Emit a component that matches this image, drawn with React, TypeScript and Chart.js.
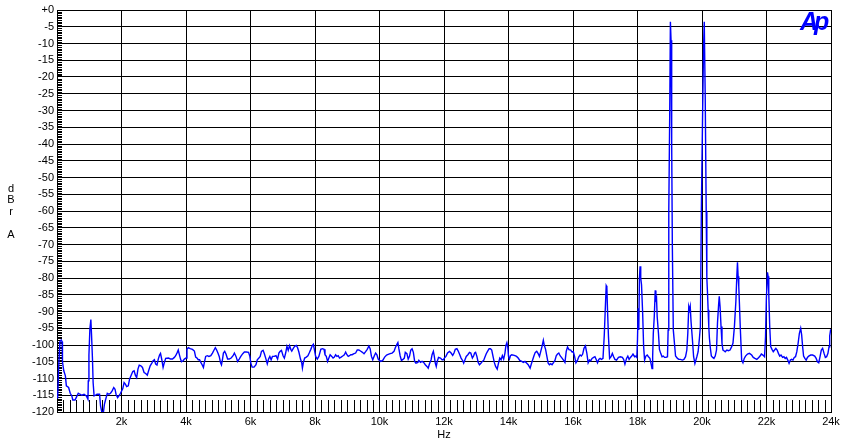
import { useEffect, useRef } from "react";
import { Chart, registerables } from "chart.js";

Chart.register(...registerables);

// X axis (kHz) and Y axis (dBr A) tick values
const xTickKHz = [0, 2, 4, 6, 8, 10, 12, 14, 16, 18, 20, 22, 24];
const yTickDb = [0, -5, -10, -15, -20, -25, -30, -35, -40, -45, -50, -55, -60, -65, -70, -75, -80, -85, -90, -95, -100, -105, -110, -115, -120];

// FFT trace, [frequency kHz, level dBr A]
const spectrum0to4k: [number, number][] = [
  [0.02, -116], [0.05, -107], [0.09, -99], [0.13, -98.5], [0.16, -99], [0.17, -105], [0.21, -107.7], [0.26, -109.2], [0.29, -112.2], [0.36, -112.7],
  [0.41, -114.4], [0.46, -115.2], [0.49, -116.4], [0.56, -116.4], [0.61, -115.4], [0.66, -114.4], [0.71, -114.7], [0.77, -115], [0.84, -114.7], [0.91, -115.2],
  [0.96, -116.2], [0.97, -110.7], [0.99, -103], [1.02, -95.2], [1.05, -92.4], [1.07, -96.7], [1.1, -104.2], [1.12, -111.2], [1.15, -115.2], [1.19, -115],
  [1.24, -114.7], [1.32, -114.7], [1.35, -118.2], [1.39, -120], [1.44, -120], [1.47, -117.7], [1.51, -116.2], [1.56, -114.4], [1.61, -114.7], [1.66, -114.4],
  [1.71, -113.7], [1.76, -112.7], [1.8, -113.2], [1.83, -114.7], [1.88, -115.7], [1.92, -115.2], [1.97, -114.4], [2.04, -113], [2.08, -111.2], [2.12, -111.7],
  [2.16, -112.4], [2.21, -112.2], [2.25, -110.2], [2.3, -109], [2.35, -107.9], [2.39, -107.7], [2.43, -109], [2.47, -109.7], [2.51, -107.2], [2.55, -106],
  [2.6, -106.2], [2.65, -106.7], [2.7, -108.2], [2.75, -108.5], [2.8, -109], [2.84, -107.7], [2.89, -106.2], [2.94, -105.4], [2.98, -104.7], [3.02, -104.4],
  [3.06, -105.7], [3.1, -106], [3.14, -104.2], [3.18, -103], [3.21, -102.5], [3.25, -104.4], [3.29, -106.7], [3.33, -105.2], [3.37, -104], [3.46, -103.9],
  [3.52, -104.2], [3.58, -104.2], [3.64, -103.7], [3.68, -103.2], [3.73, -102.2], [3.76, -101.5], [3.79, -102.7], [3.83, -104.2], [3.86, -105], [3.91, -104.7],
  [3.95, -104.2],
];

const spectrum4to8k: [number, number][] = [
  [4.0, -103.9], [4.03, -101.3], [4.07, -100.8], [4.13, -101.1], [4.2, -101.3], [4.26, -101.8], [4.3, -103.6], [4.34, -103.9], [4.38, -104.4], [4.42, -104.4],
  [4.46, -105.2], [4.5, -105.9], [4.54, -106.7], [4.57, -105.2], [4.61, -103.4], [4.66, -103.2], [4.71, -103.4], [4.77, -103.2], [4.82, -102.4], [4.87, -101.5],
  [4.91, -100.8], [4.95, -101.5], [4.99, -102.4], [5.03, -103.4], [5.07, -105.2], [5.1, -105.9], [5.13, -104.4], [5.16, -102.4], [5.2, -101.9], [5.24, -102.7],
  [5.29, -104.2], [5.34, -104.2], [5.4, -103.9], [5.46, -103.2], [5.5, -102.4], [5.55, -103.4], [5.6, -104.9], [5.65, -104.2], [5.7, -103.4], [5.76, -102.6],
  [5.81, -102.1], [5.87, -102.1], [5.94, -102.2], [5.98, -103.4], [6.01, -105.4], [6.05, -106.6], [6.11, -106.6], [6.17, -105.9], [6.21, -104.4], [6.26, -103.9],
  [6.3, -103.4], [6.34, -101.9], [6.39, -101.6], [6.43, -102.6], [6.48, -104.2], [6.52, -105.6], [6.56, -104.2], [6.6, -103.4], [6.64, -104.4], [6.68, -103.4],
  [6.73, -103.4], [6.79, -103.2], [6.84, -104.2], [6.88, -102.4], [6.92, -101.9], [6.96, -101.6], [7.01, -103.2], [7.05, -103.9], [7.09, -102.4], [7.13, -100.4],
  [7.17, -101.6], [7.21, -100.2], [7.25, -101.3], [7.28, -101.8], [7.34, -100.8], [7.38, -100.3], [7.42, -100.1], [7.46, -100.8], [7.5, -102.1], [7.55, -104.2],
  [7.59, -105.4], [7.61, -106.9], [7.64, -105.2], [7.68, -103.9], [7.73, -103.6], [7.78, -103.2], [7.82, -102.4],
];

const spectrum8to12k: [number, number][] = [
  [7.87, -101.3], [7.92, -100.1], [7.95, -99.8], [7.98, -101.3], [8.02, -103.4], [8.07, -104.2], [8.12, -103.4], [8.18, -101.3], [8.23, -101.1], [8.28, -101.3],
  [8.31, -102.9], [8.35, -103.4], [8.39, -104.9], [8.43, -103.9], [8.47, -102.9], [8.52, -103.4], [8.56, -103.9], [8.6, -103.6], [8.64, -102.9], [8.68, -103.4],
  [8.72, -103.2], [8.76, -103.9], [8.81, -103.6], [8.87, -103.2], [8.91, -102.9], [8.95, -102.1], [8.99, -102.9], [9.03, -103.4], [9.07, -103.2], [9.11, -102.9],
  [9.15, -102.9], [9.21, -102.6], [9.26, -102.4], [9.31, -101.5], [9.36, -101.5], [9.41, -101.8], [9.46, -102.1], [9.52, -102.6], [9.57, -102], [9.62, -101.3],
  [9.67, -100.3], [9.71, -101.1], [9.75, -103.4], [9.79, -104.4], [9.84, -103.2], [9.88, -102.4], [9.92, -102.9], [9.96, -104.2], [10.0, -104.6], [10.04, -104.9],
  [10.1, -104.6], [10.16, -103.6], [10.22, -103], [10.27, -102.8], [10.33, -102.6], [10.39, -102.4], [10.45, -101.9], [10.49, -100.8], [10.54, -99.8], [10.57, -99.3],
  [10.6, -101.1], [10.64, -103.2], [10.68, -104.6], [10.72, -104.4], [10.77, -103.9], [10.8, -102.2], [10.85, -102.6], [10.89, -104.2], [10.93, -103.4], [10.97, -101.5],
  [11.01, -101.1], [11.05, -102.2], [11.09, -104.9], [11.13, -105.4], [11.19, -105.2], [11.22, -104.6], [11.27, -105.2], [11.32, -104.9], [11.37, -105.2], [11.42, -105.9],
  [11.47, -106.4], [11.51, -106.9], [11.55, -105.6], [11.6, -104.4], [11.63, -102.9], [11.67, -101.9],
];

const spectrum12to16k: [number, number][] = [
  [11.7, -103.4], [11.73, -105.4], [11.76, -106.4], [11.79, -104.9], [11.83, -103.7], [11.89, -103.9], [11.94, -104.4], [11.98, -104.4], [12.01, -103.9], [12.06, -103.4],
  [12.11, -102.4], [12.17, -101.9], [12.22, -102.4], [12.27, -103.1], [12.31, -102.4], [12.35, -101.3], [12.4, -101.1], [12.44, -101.8], [12.48, -102.7], [12.53, -103.9],
  [12.58, -104.7], [12.61, -105.4], [12.65, -104.4], [12.69, -103.4], [12.74, -102.9], [12.79, -102.2], [12.83, -102.4], [12.88, -103.9], [12.92, -103.2], [12.95, -102.4],
  [12.98, -102.2], [13.02, -103.4], [13.06, -105.2], [13.1, -105.9], [13.15, -105.4], [13.19, -104.9], [13.23, -104.6], [13.27, -103.6], [13.31, -102.6], [13.35, -101.9],
  [13.4, -101.1], [13.44, -101.1], [13.48, -101.5], [13.52, -103.4], [13.56, -105.2], [13.6, -106.4], [13.65, -107.2], [13.69, -105.4], [13.73, -103.9], [13.77, -104.4],
  [13.81, -103.2], [13.85, -104.2], [13.89, -102.4], [13.92, -100.1], [13.95, -99.3], [13.98, -100.8], [14.0, -103.4], [14.03, -104.2], [14.06, -103.2], [14.1, -102.9],
  [14.15, -103], [14.2, -103.2], [14.25, -103.4], [14.3, -103.9], [14.35, -104.6], [14.41, -104.9], [14.46, -105.2], [14.51, -104.9], [14.56, -105.4], [14.61, -105.9],
  [14.67, -106.9], [14.71, -105.6], [14.75, -104.4], [14.79, -103.2], [14.83, -102.2], [14.875, -101.9], [14.92, -102.6], [14.96, -103.4], [15.0, -101.9], [15.04, -100.4],
  [15.08, -98.6], [15.11, -100.1], [15.15, -101.3], [15.19, -103.4], [15.23, -105.4], [15.27, -105.9], [15.31, -105.6], [15.35, -105.9], [15.4, -105.2], [15.44, -104.6],
  [15.48, -103.2], [15.52, -102.7], [15.56, -102.4], [15.6, -103.2], [15.66, -103.9], [15.71, -104.6], [15.75, -105.2], [15.79, -101.9], [15.83, -100.6], [15.875, -101.4],
];

const spectrum16to20k: [number, number][] = [
  [15.93, -101.5], [15.97, -102.1], [16.01, -102], [16.05, -103.5], [16.09, -105.3], [16.14, -104.5], [16.18, -103.5], [16.22, -103], [16.26, -103.3], [16.3, -102.7],
  [16.34, -101], [16.385, -100.3], [16.43, -102.5], [16.47, -105.3], [16.51, -104.5], [16.55, -104.7], [16.59, -104], [16.64, -103.7], [16.68, -103.5], [16.72, -104.3],
  [16.76, -105.3], [16.8, -104.3], [16.84, -104], [16.885, -104.3], [16.93, -104], [16.97, -97], [17.0, -89.5], [17.03, -82.3], [17.05, -82.7], [17.07, -89.5],
  [17.1, -97.5], [17.135, -104], [17.18, -103.5], [17.22, -102.5], [17.26, -103.5], [17.3, -104.3], [17.35, -104.5], [17.41, -103.7], [17.47, -103.5], [17.53, -103.7],
  [17.57, -104.3], [17.61, -105.7], [17.66, -104], [17.7, -103.3], [17.74, -104.3], [17.78, -103.7], [17.82, -103.3], [17.86, -102.7], [17.91, -103.5], [17.95, -103.3],
  [17.98, -103.7], [18.0, -98.3], [18.02, -89], [18.04, -95.5], [18.06, -80], [18.08, -76.5], [18.1, -80], [18.125, -82], [18.16, -90.5], [18.19, -100.5],
  [18.22, -104.5], [18.26, -103.3], [18.3, -103], [18.34, -103.5], [18.385, -104], [18.43, -106], [18.45, -107], [18.47, -103.5], [18.49, -96.5], [18.52, -91.5],
  [18.55, -83.7], [18.57, -86.5], [18.59, -86], [18.61, -91.5], [18.65, -96.5], [18.68, -101.3], [18.72, -102.5], [18.76, -103.5], [18.8, -103.3], [18.84, -103.7],
  [18.885, -103.7], [18.93, -103.5], [18.95, -95.5], [18.97, -60], [19.0, -30], [19.02, -3.5], [19.04, -9], [19.06, -40], [19.08, -70], [19.11, -95.5],
  [19.18, -103.3], [19.24, -104], [19.28, -104.3], [19.33, -104.3], [19.39, -104.5], [19.44, -104.3], [19.49, -103.5], [19.53, -101.5], [19.56, -96.5], [19.59, -88.5],
  [19.615, -89.5], [19.635, -88.5], [19.66, -93], [19.7, -98], [19.74, -103.5], [19.78, -105.5], [19.84, -103.5], [19.88, -102], [19.92, -98], [19.95, -94.5],
];

const spectrum20to24k: [number, number][] = [
  [19.98, -60], [20.02, -30], [20.05, -10.5], [20.07, -3.5], [20.1, -26], [20.13, -60], [20.15, -80], [20.17, -84.3], [20.19, -89.5], [20.21, -94.5],
  [20.23, -98], [20.26, -101], [20.29, -103.3], [20.33, -103.7], [20.37, -104], [20.41, -103.3], [20.45, -101.5], [20.48, -93.5], [20.515, -88], [20.535, -85.5],
  [20.56, -88.5], [20.59, -94.5], [20.62, -99.5], [20.65, -101.5], [20.68, -101.7], [20.72, -102], [20.77, -101.5], [20.82, -101.7], [20.87, -101.5], [20.92, -100.5],
  [20.96, -99.5], [21.005, -94.5], [21.05, -87], [21.08, -79.5], [21.1, -75.3], [21.12, -79.5], [21.14, -82.5], [21.16, -87.5], [21.19, -95.5], [21.23, -104.5],
  [21.27, -105.3], [21.31, -104], [21.35, -103.3], [21.41, -102.7], [21.47, -102.5], [21.54, -103], [21.59, -103.7], [21.64, -104], [21.7, -104.3], [21.76, -103.7],
  [21.8, -103.3], [21.84, -102.7], [21.89, -103], [21.94, -103.5], [21.97, -97.5], [21.995, -86.5], [22.03, -78.3], [22.05, -79.5], [22.07, -84.5], [22.1, -94.5],
  [22.13, -100.5], [22.17, -101.3], [22.21, -102], [22.25, -101.5], [22.29, -101], [22.33, -101.5], [22.37, -102.5], [22.41, -103.3], [22.45, -103], [22.5, -103.7],
  [22.54, -103.5], [22.58, -104], [22.62, -103.7], [22.66, -104.5], [22.7, -105.5], [22.74, -104.5], [22.78, -104.3], [22.82, -104.5], [22.86, -103.7], [22.9, -103.5],
  [22.94, -102], [22.98, -99.5], [23.02, -96.5], [23.06, -95], [23.09, -97], [23.12, -100.5], [23.15, -103.3], [23.19, -104], [23.23, -104.5], [23.27, -103.7],
  [23.31, -103.3], [23.37, -103], [23.43, -103], [23.495, -103.3], [23.54, -104], [23.58, -105], [23.62, -105.3], [23.66, -103.5], [23.7, -101.5], [23.74, -101],
  [23.785, -102.5], [23.825, -103.7], [23.865, -103.5], [23.905, -102.5], [23.94, -100.5], [23.96, -97.3], [23.99, -95.3],
];

const FONT = { family: "'Liberation Sans', Arial, sans-serif", size: 11 };

export default function App() {
  const ref = useRef<HTMLCanvasElement>(null);

  useEffect(() => {
    if (!ref.current) return;
    const points = [
      ...spectrum0to4k,
      ...spectrum4to8k,
      ...spectrum8to12k,
      ...spectrum12to16k,
      ...spectrum16to20k,
      ...spectrum20to24k,
    ].map(([f, db]) => ({ x: f, y: db }));

    const minorTicks = {
      id: "minorTicks",
      beforeDatasetsDraw(chart: any) {
        const { ctx, chartArea, scales } = chart;
        const xs = scales.x;
        const ys = scales.y;
        ctx.save();
        ctx.strokeStyle = "#000";
        ctx.lineWidth = 1;
        ctx.beginPath();
        // bottom minor ticks every 0.2 kHz
        for (let i = 1; i < 120; i++) {
          if (i % 10 === 0) continue;
          const px = Math.round(xs.getPixelForValue(i * 0.2)) + 0.5;
          ctx.moveTo(px, chartArea.bottom);
          ctx.lineTo(px, chartArea.bottom - 12);
        }
        // left minor ticks every 0.5 dB
        for (let j = 1; j < 240; j++) {
          if (j % 10 === 0) continue;
          const py = Math.round(ys.getPixelForValue(-j * 0.5)) + 0.5;
          ctx.moveTo(chartArea.left, py);
          ctx.lineTo(chartArea.left + 5, py);
        }
        ctx.stroke();
        ctx.restore();
      },
    };

    const chart = new Chart(ref.current, {
      type: "line",
      data: {
        datasets: [
          {
            data: points,
            borderColor: "#0000ff",
            borderWidth: 1.4,
            pointRadius: 0,
            tension: 0,
            fill: false,
          },
        ],
      },
      options: {
        animation: false,
        responsive: false,
        plugins: { legend: { display: false }, tooltip: { enabled: false } },
        layout: { padding: { top: 10, right: 16, left: 0, bottom: 0 } },
        scales: {
          x: {
            type: "linear",
            min: 0,
            max: 24,
            afterBuildTicks: (s: any) => {
              s.ticks = xTickKHz.map((v) => ({ value: v }));
            },
            afterFit: (s: any) => {
              s.height = 33;
            },
            ticks: {
              autoSkip: false,
              maxRotation: 0,
              padding: 3,
              color: "#000",
              font: FONT,
              callback: (v: any) => (v === 0 ? "" : `${v}k`),
            },
            grid: { color: "#000", lineWidth: 1, drawTicks: false },
            border: { color: "#000", width: 1 },
            title: { display: true, text: "Hz", color: "#000", font: FONT, padding: { top: 2, bottom: 3 } },
          },
          y: {
            type: "linear",
            min: -120,
            max: 0,
            afterBuildTicks: (s: any) => {
              s.ticks = yTickDb.map((v) => ({ value: v }));
            },
            afterFit: (s: any) => {
              s.width = 57;
            },
            ticks: {
              autoSkip: false,
              padding: 3,
              color: "#000",
              font: FONT,
              callback: (v: any) => (v === 0 ? "+0" : `${v}`),
            },
            grid: { color: "#000", lineWidth: 1, drawTicks: false },
            border: { color: "#000", width: 1 },
          },
        },
      },
      plugins: [minorTicks],
    });
    return () => chart.destroy();
  }, []);

  const letter = (ch: string, cy: number) => (
    <div
      style={{
        position: "absolute",
        left: 1,
        top: cy - 7,
        width: 20,
        height: 14,
        lineHeight: "14px",
        textAlign: "center",
        fontFamily: "'Liberation Sans', Arial, sans-serif",
        fontSize: 11,
        color: "#000",
      }}
    >
      {ch}
    </div>
  );

  return (
    <div style={{ position: "fixed", left: 0, top: 0, width: 847, height: 445, background: "#fff" }}>
      <canvas ref={ref} width={847} height={445} style={{ position: "absolute", left: 0, top: 0 }} />
      {letter("d", 188)}
      {letter("B", 199)}
      {letter("r", 211)}
      {letter("A", 234)}
      <div
        style={{
          position: "absolute",
          left: 800,
          top: 9,
          fontFamily: "'Liberation Sans', Arial, sans-serif",
          fontWeight: "bold",
          fontStyle: "italic",
          fontSize: 25,
          lineHeight: "25px",
          letterSpacing: -4,
          color: "#0000ff",
        }}
      >
        Ap
      </div>
    </div>
  );
}
